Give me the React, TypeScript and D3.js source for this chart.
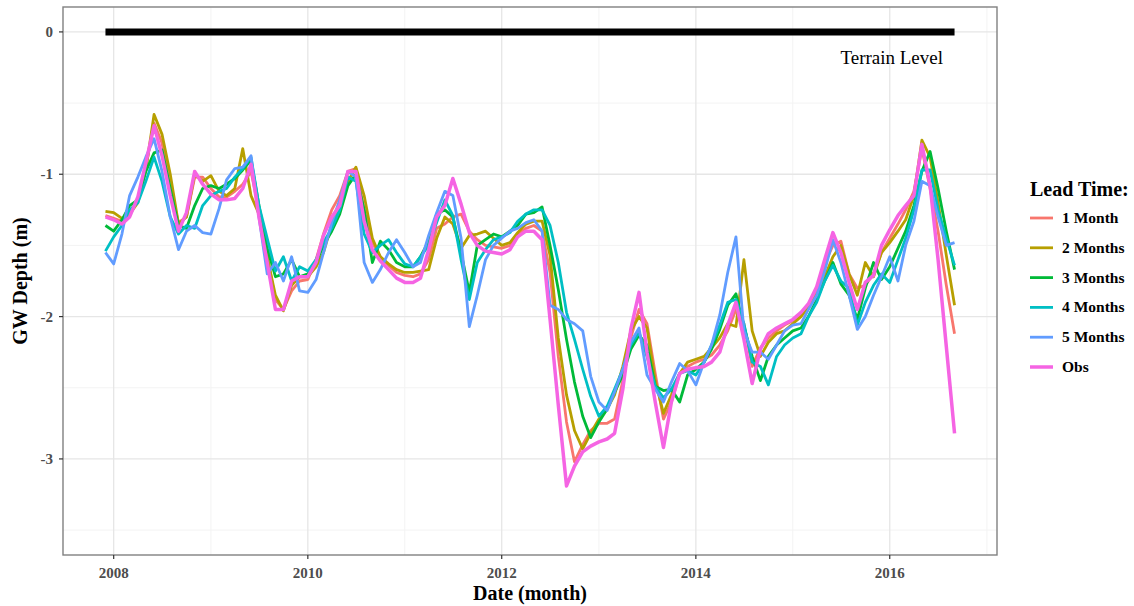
import React, { useEffect, useRef } from "react";
import * as d3 from "d3";

const W = 1134;
const H = 606;
const FONT = "'Liberation Serif', 'Times New Roman', serif";

// monthly dates, Dec 2007 .. Sep 2016
const months: Date[] = d3.timeMonth.range(new Date(2007, 11, 1), new Date(2016, 9, 1));

const leadLabels = ["1 Month", "2 Months", "3 Months", "4 Months", "5 Months", "Obs"];
const leadColors = ["#F8766D", "#B79F00", "#00BA38", "#00BFC4", "#619CFF", "#F564E3"];

const oneMonth = [
  -1.29, -1.31, -1.33, -1.27, -1.18, -0.95, -0.64, -0.78, -1.10, -1.34, -1.30, -1.02, -1.02, -1.10, -1.16, -1.16, -1.12, -1.07, -0.98, -1.25, -1.58, -1.88, -1.95, -1.82, -1.75,
  -1.74, -1.60, -1.42, -1.25, -1.15, -0.98, -0.96, -1.25, -1.48, -1.58, -1.64, -1.69, -1.71, -1.72, -1.70, -1.60, -1.38, -1.35, -1.30, -1.28, -1.40, -1.46, -1.50, -1.51, -1.52, -1.50,
  -1.42, -1.38, -1.36, -1.40, -1.69, -2.28, -2.74, -3.02, -2.90, -2.80, -2.75, -2.75, -2.72, -2.45, -2.15, -1.95, -2.05, -2.40, -2.72, -2.60, -2.40, -2.35, -2.32, -2.30, -2.27, -2.20, -2.10,
  -1.95, -2.05, -2.35, -2.22, -2.15, -2.10, -2.06, -2.03, -1.99, -1.93, -1.82, -1.63, -1.50, -1.47, -1.70, -1.80, -1.78, -1.70, -1.55, -1.45, -1.35, -1.25, -1.12, -0.82, -1.10, -1.40, -1.78, -2.12,
];
const twoMonths = [
  -1.26, -1.27, -1.31, -1.28, -1.20, -0.97, -0.58, -0.72, -1.00, -1.35, -1.30, -1.00, -1.05, -1.01, -1.12, -1.15, -1.10, -0.82, -1.15, -1.28, -1.58, -1.85, -1.96, -1.78, -1.72,
  -1.72, -1.65, -1.55, -1.35, -1.20, -1.05, -0.95, -1.15, -1.45, -1.58, -1.63, -1.67, -1.69, -1.69, -1.68, -1.67, -1.45, -1.30, -1.35, -1.52, -1.43, -1.42, -1.40, -1.45, -1.50, -1.48,
  -1.41, -1.35, -1.33, -1.33, -1.57, -2.15, -2.55, -2.80, -2.93, -2.82, -2.72, -2.65, -2.55, -2.35, -2.10, -2.00, -2.08, -2.45, -2.68, -2.55, -2.40, -2.32, -2.30, -2.28, -2.22, -2.15, -2.05,
  -2.07, -1.60, -2.10, -2.28, -2.18, -2.12, -2.10, -2.05, -2.00, -1.93, -1.85, -1.72, -1.58, -1.50, -1.70, -1.85, -1.62, -1.72, -1.55, -1.48, -1.40, -1.32, -1.15, -0.76, -0.88, -1.20, -1.57, -1.92,
];
const threeMonths = [
  -1.36, -1.40, -1.32, -1.22, -1.18, -0.98, -0.85, -0.83, -1.10, -1.36, -1.38, -1.22, -1.10, -1.08, -1.10, -1.07, -1.03, -0.97, -0.90, -1.22, -1.52, -1.72, -1.70, -1.60, -1.72,
  -1.70, -1.62, -1.50, -1.40, -1.28, -1.08, -1.00, -1.25, -1.62, -1.47, -1.53, -1.62, -1.65, -1.65, -1.58, -1.47, -1.28, -1.25, -1.30, -1.55, -1.83, -1.50, -1.46, -1.42, -1.44, -1.40,
  -1.36, -1.28, -1.27, -1.23, -1.50, -1.81, -2.16, -2.46, -2.70, -2.85, -2.74, -2.65, -2.53, -2.41, -2.23, -2.13, -2.20, -2.49, -2.52, -2.51, -2.60, -2.41, -2.37, -2.32, -2.23, -2.09, -1.92,
  -1.84, -2.07, -2.28, -2.45, -2.28, -2.20, -2.15, -2.10, -2.08, -2.00, -1.88, -1.75, -1.62, -1.77, -1.85, -2.02, -1.80, -1.62, -1.74, -1.65, -1.52, -1.40, -1.22, -0.98, -0.84, -1.10, -1.40, -1.67,
];
const fourMonths = [
  -1.54, -1.44, -1.36, -1.25, -1.20, -1.05, -0.88, -1.05, -1.30, -1.42, -1.36, -1.38, -1.22, -1.15, -1.12, -1.10, -1.02, -0.96, -0.88, -1.22, -1.45, -1.68, -1.58, -1.75, -1.65,
  -1.68, -1.60, -1.48, -1.38, -1.25, -1.02, -1.05, -1.42, -1.55, -1.50, -1.46, -1.55, -1.63, -1.65, -1.58, -1.50, -1.34, -1.18, -1.29, -1.60, -1.88, -1.62, -1.53, -1.46, -1.44, -1.41,
  -1.33, -1.28, -1.25, -1.25, -1.36, -1.62, -1.97, -2.16, -2.37, -2.56, -2.70, -2.63, -2.51, -2.37, -2.20, -2.11, -2.28, -2.49, -2.57, -2.51, -2.40, -2.38, -2.41, -2.32, -2.20, -2.06, -1.90,
  -1.88, -2.05, -2.32, -2.35, -2.48, -2.28, -2.20, -2.15, -2.12, -2.00, -1.90, -1.75, -1.64, -1.75, -1.80, -2.06, -1.90, -1.78, -1.70, -1.76, -1.60, -1.45, -1.25, -0.97, -0.97, -1.25, -1.45, -1.64,
];
const fiveMonths = [
  -1.55, -1.63, -1.42, -1.15, -1.02, -0.88, -0.75, -0.98, -1.30, -1.53, -1.40, -1.36, -1.41, -1.42, -1.24, -1.04, -0.96, -0.95, -0.87, -1.30, -1.70, -1.62, -1.75, -1.58, -1.82,
  -1.83, -1.74, -1.55, -1.34, -1.18, -0.98, -1.02, -1.62, -1.76, -1.67, -1.55, -1.46, -1.55, -1.65, -1.62, -1.43, -1.27, -1.12, -1.15, -1.45, -2.07, -1.85, -1.60, -1.50, -1.45, -1.40,
  -1.38, -1.34, -1.32, -1.40, -1.92, -1.95, -2.02, -2.05, -2.10, -2.42, -2.60, -2.66, -2.53, -2.37, -2.18, -2.08, -2.41, -2.51, -2.60, -2.46, -2.33, -2.38, -2.48, -2.32, -2.20, -1.99, -1.69,
  -1.44, -2.10, -2.25, -2.25, -2.30, -2.20, -2.10, -2.06, -2.05, -1.95, -1.85, -1.68, -1.46, -1.62, -1.85, -2.09, -2.00, -1.85, -1.72, -1.58, -1.75, -1.50, -1.33, -1.05, -1.08, -1.30, -1.50, -1.48,
];
const obs = [
  -1.30, -1.32, -1.35, -1.30, -1.16, -0.92, -0.66, -0.87, -1.15, -1.40, -1.27, -0.98, -1.07, -1.14, -1.18, -1.18, -1.17, -1.10, -0.93, -1.30, -1.62, -1.95, -1.95, -1.75, -1.72,
  -1.72, -1.62, -1.43, -1.30, -1.22, -0.98, -0.98, -1.33, -1.53, -1.61, -1.67, -1.73, -1.76, -1.76, -1.73, -1.53, -1.30, -1.22, -1.03, -1.21, -1.41, -1.50, -1.54, -1.55, -1.56, -1.53,
  -1.44, -1.40, -1.40, -1.46, -2.02, -2.62, -3.19, -3.05, -2.95, -2.91, -2.88, -2.86, -2.82, -2.51, -2.09, -1.83, -2.25, -2.60, -2.92, -2.60, -2.40, -2.37, -2.36, -2.35, -2.32, -2.25, -2.06,
  -1.90, -2.16, -2.47, -2.23, -2.12, -2.08, -2.05, -2.02, -1.97, -1.91, -1.79, -1.60, -1.41, -1.55, -1.76, -1.95, -1.76, -1.71, -1.50, -1.39, -1.29, -1.22, -1.15, -0.79, -1.08, -1.60, -2.21, -2.82,
];
const seriesValues = [oneMonth, twoMonths, threeMonths, fourMonths, fiveMonths, obs];

const yLimits = [-3.5, 0];
const yMajor = [0, -1, -2, -3];
const yMinor = [-0.5, -1.5, -2.5, -3.5];
const xMajorYears = [2008, 2010, 2012, 2014, 2016];
const xMinorYears = [2007, 2009, 2011, 2013, 2015, 2017];
const terrainLevel = 0;
const terrainLabel = "Terrain Level";

const panel = { left: 63, top: 7, right: 997, bottom: 555 };

export default function App() {
  const ref = useRef<SVGSVGElement | null>(null);

  useEffect(() => {
    const svg = d3.select(ref.current);
    svg.selectAll("*").remove();

    const t0 = +months[0];
    const t1 = +months[months.length - 1];
    const pad = (t1 - t0) * 0.05;
    const x = d3.scaleTime()
      .domain([new Date(t0 - pad), new Date(t1 + pad)])
      .range([panel.left, panel.right]);
    const yPad = (yLimits[1] - yLimits[0]) * 0.05;
    const y = d3.scaleLinear()
      .domain([yLimits[0] - yPad, yLimits[1] + yPad])
      .range([panel.bottom, panel.top]);

    svg.append("rect")
      .attr("width", W).attr("height", H).attr("fill", "white");

    const g = svg.append("g");

    // minor grid
    g.append("g").selectAll("line").data(yMinor).join("line")
      .attr("x1", panel.left).attr("x2", panel.right)
      .attr("y1", d => y(d)).attr("y2", d => y(d))
      .attr("stroke", "#f3f3f3").attr("stroke-width", 1);
    g.append("g").selectAll("line")
      .data(xMinorYears.map(yr => new Date(yr, 0, 1)).filter(d => d >= x.domain()[0] && d <= x.domain()[1]))
      .join("line")
      .attr("x1", d => x(d)).attr("x2", d => x(d))
      .attr("y1", panel.top).attr("y2", panel.bottom)
      .attr("stroke", "#f3f3f3").attr("stroke-width", 1);

    // major grid
    g.append("g").selectAll("line").data(yMajor).join("line")
      .attr("x1", panel.left).attr("x2", panel.right)
      .attr("y1", d => y(d)).attr("y2", d => y(d))
      .attr("stroke", "#e6e6e6").attr("stroke-width", 1.3);
    g.append("g").selectAll("line").data(xMajorYears).join("line")
      .attr("x1", d => x(new Date(d, 0, 1))).attr("x2", d => x(new Date(d, 0, 1)))
      .attr("y1", panel.top).attr("y2", panel.bottom)
      .attr("stroke", "#e6e6e6").attr("stroke-width", 1.3);

    // terrain level bar
    g.append("line")
      .attr("x1", x(months[0])).attr("x2", x(months[months.length - 1]))
      .attr("y1", y(terrainLevel)).attr("y2", y(terrainLevel))
      .attr("stroke", "black").attr("stroke-width", 7);
    g.append("text")
      .attr("x", x(new Date(2016, 0, 1)) + 2)
      .attr("y", y(terrainLevel) + 32)
      .attr("text-anchor", "middle")
      .style("font-family", FONT).style("font-size", "19px")
      .attr("fill", "black")
      .text(terrainLabel);

    // series
    const line = d3.line<number>()
      .x((_, i) => x(months[i]))
      .y(d => y(d));
    seriesValues.forEach((vals, k) => {
      g.append("path")
        .attr("d", line(vals))
        .attr("fill", "none")
        .attr("stroke", leadColors[k])
        .attr("stroke-width", k === 5 ? 3.5 : 2.8)
        .attr("stroke-linejoin", "round");
    });

    // panel border
    g.append("rect")
      .attr("x", panel.left).attr("y", panel.top)
      .attr("width", panel.right - panel.left).attr("height", panel.bottom - panel.top)
      .attr("fill", "none").attr("stroke", "#808080").attr("stroke-width", 1.4);

    // x axis ticks
    const xt = g.append("g");
    xMajorYears.forEach(yr => {
      const px = x(new Date(yr, 0, 1));
      xt.append("line").attr("x1", px).attr("x2", px)
        .attr("y1", panel.bottom).attr("y2", panel.bottom + 4)
        .attr("stroke", "#333").attr("stroke-width", 1.2);
      xt.append("text").attr("x", px).attr("y", panel.bottom + 23)
        .attr("text-anchor", "middle")
        .style("font-family", FONT).style("font-size", "15px").style("font-weight", "bold")
        .attr("fill", "#4d4d4d").text(String(yr));
    });

    // y axis ticks
    const yt = g.append("g");
    yMajor.forEach(v => {
      const py = y(v);
      yt.append("line").attr("x1", panel.left - 4).attr("x2", panel.left)
        .attr("y1", py).attr("y2", py)
        .attr("stroke", "#333").attr("stroke-width", 1.2);
      yt.append("text").attr("x", panel.left - 10).attr("y", py + 5)
        .attr("text-anchor", "end")
        .style("font-family", FONT).style("font-size", "15px").style("font-weight", "bold")
        .attr("fill", "#4d4d4d").text(String(v));
    });

    // axis titles
    svg.append("text")
      .attr("x", (panel.left + panel.right) / 2).attr("y", 600)
      .attr("text-anchor", "middle")
      .style("font-family", FONT).style("font-size", "20px").style("font-weight", "bold")
      .text("Date (month)");
    svg.append("text")
      .attr("transform", `translate(27,${(panel.top + panel.bottom) / 2}) rotate(-90)`)
      .attr("text-anchor", "middle")
      .style("font-family", FONT).style("font-size", "20px").style("font-weight", "bold")
      .text("GW Depth (m)");

    // legend
    const lg = svg.append("g").attr("transform", "translate(1030,0)");
    lg.append("text").attr("x", 0).attr("y", 196)
      .style("font-family", FONT).style("font-size", "20px").style("font-weight", "bold")
      .text("Lead Time:");
    leadLabels.forEach((lab, i) => {
      const ly = 218 + i * 29.8;
      lg.append("line").attr("x1", 0).attr("x2", 23).attr("y1", ly).attr("y2", ly)
        .attr("stroke", leadColors[i]).attr("stroke-width", i === 5 ? 3.5 : 2.8);
      lg.append("text").attr("x", 32).attr("y", ly + 5)
        .style("font-family", FONT).style("font-size", "15.5px").style("font-weight", "bold")
        .text(lab);
    });
  }, []);

  return (
    <svg ref={ref} width={W} height={H}
      style={{ position: "absolute", left: 0, top: 0, display: "block" }} />
  );
}
